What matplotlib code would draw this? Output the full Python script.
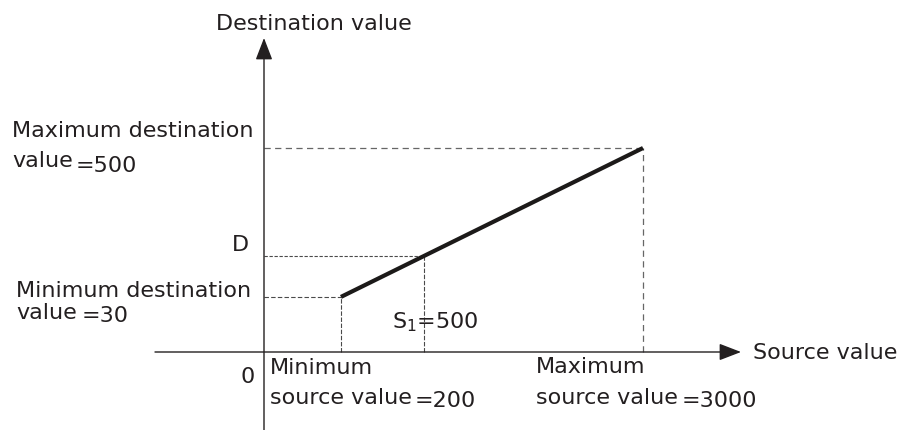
import numpy as np
import matplotlib.pyplot as plt

W, H = 904, 430

# scaling parameters
src_min, src_max = 200, 3000
dst_min, dst_max = 30, 500
s1 = 500
d_val = dst_min + (s1 - src_min) * (dst_max - dst_min) / (src_max - src_min)

# the sketch is not to scale: key values sit at fixed fractions of the plot box
x_knots = [0, src_min, s1, src_max]
x_frac = [0.0, 0.203, 0.422, 1.0]
y_knots = [0, dst_min, d_val, dst_max]
fy_min = 0.27
y_frac = [0.0, fy_min,
          fy_min + (x_frac[2] - x_frac[1]) / (1 - x_frac[1]) * (1 - fy_min), 1.0]

INK = "#231f20"
DASH = "#4a4a4a"
FS = 16
plt.rcParams["font.family"] = ["DejaVu Sans"]


def px(x, y):
    # pixel (from top-left) -> figure fraction
    return x / W, 1 - y / H


def schematic(knots, fracs):
    return (lambda v: np.interp(v, knots, fracs),
            lambda p: np.interp(p, fracs, knots))


fig = plt.figure(figsize=(W / 100, H / 100), dpi=100)
ax = fig.add_axes([264 / W, 1 - 352 / H, (643 - 264) / W, (352 - 148) / H])
ax.set_xscale("function", functions=schematic(x_knots, x_frac))
ax.set_yscale("function", functions=schematic(y_knots, y_frac))
ax.set_xlim(0, src_max)
ax.set_ylim(0, dst_max)
ax.axis("off")

# axes with arrow heads
arrow = dict(arrowstyle="-|>,head_length=13.5,head_width=5.2", mutation_scale=1,
             color=INK, lw=1.0, shrinkA=0, shrinkB=0)
ax.annotate("", xy=(0, px(0, 38)[1]), xycoords=("data", "figure fraction"),
            xytext=(0, 0), textcoords=("data", "figure fraction"), arrowprops=arrow)
ax.annotate("", xy=(px(741, 0)[0], 0), xycoords=("figure fraction", "data"),
            xytext=(px(155, 0)[0], 0), textcoords=("figure fraction", "data"),
            arrowprops=arrow)

# guide lines
ax.plot([0, src_max], [dst_max, dst_max], ls=(0, (5, 3.5)), lw=0.9, color="#666", clip_on=False)
ax.plot([src_max, src_max], [0, dst_max], ls=(0, (5, 3.5)), lw=0.9, color="#666", clip_on=False)
ax.plot([0, s1], [d_val, d_val], ls=(0, (3, 1.5)), lw=0.8, color=DASH, clip_on=False)
ax.plot([s1, s1], [0, d_val], ls=(0, (4, 1.5)), lw=0.8, color=DASH, clip_on=False)
ax.plot([0, src_min], [dst_min, dst_min], ls=(0, (4, 2)), lw=0.8, color=DASH, clip_on=False)
ax.plot([src_min, src_min], [0, dst_min], ls=(0, (4, 1.5)), lw=0.8, color=DASH, clip_on=False)

# scaling line
ax.plot([src_min, src_max], [dst_min, dst_max], lw=3.0, color="#1c1a19",
        solid_capstyle="butt", clip_on=False)

# labels
labels = [
    ("Destination value", 216, 30),
    ("Maximum destination", 12, 137),
    ("value", 12, 167),
    ("=500", 76, 172),
    ("D", 232, 251),
    ("Minimum destination", 16, 297),
    ("value", 16, 319),
    ("=30", 82, 322),
    ("0", 240, 383),
    (r"S$_1$=500", 392, 328),
    ("Minimum", 270, 374),
    ("source value", 270, 404),
    ("=200", 415, 407),
    ("Maximum", 536, 373),
    ("source value", 536, 404),
    ("=3000", 682, 407),
    ("Source value", 753, 359),
]
for txt, x, y in labels:
    fx, fy = px(x, y)
    fig.text(fx, fy, txt, fontsize=FS, color=INK, ha="left", va="baseline")

fig.savefig("out.png", dpi=100)
